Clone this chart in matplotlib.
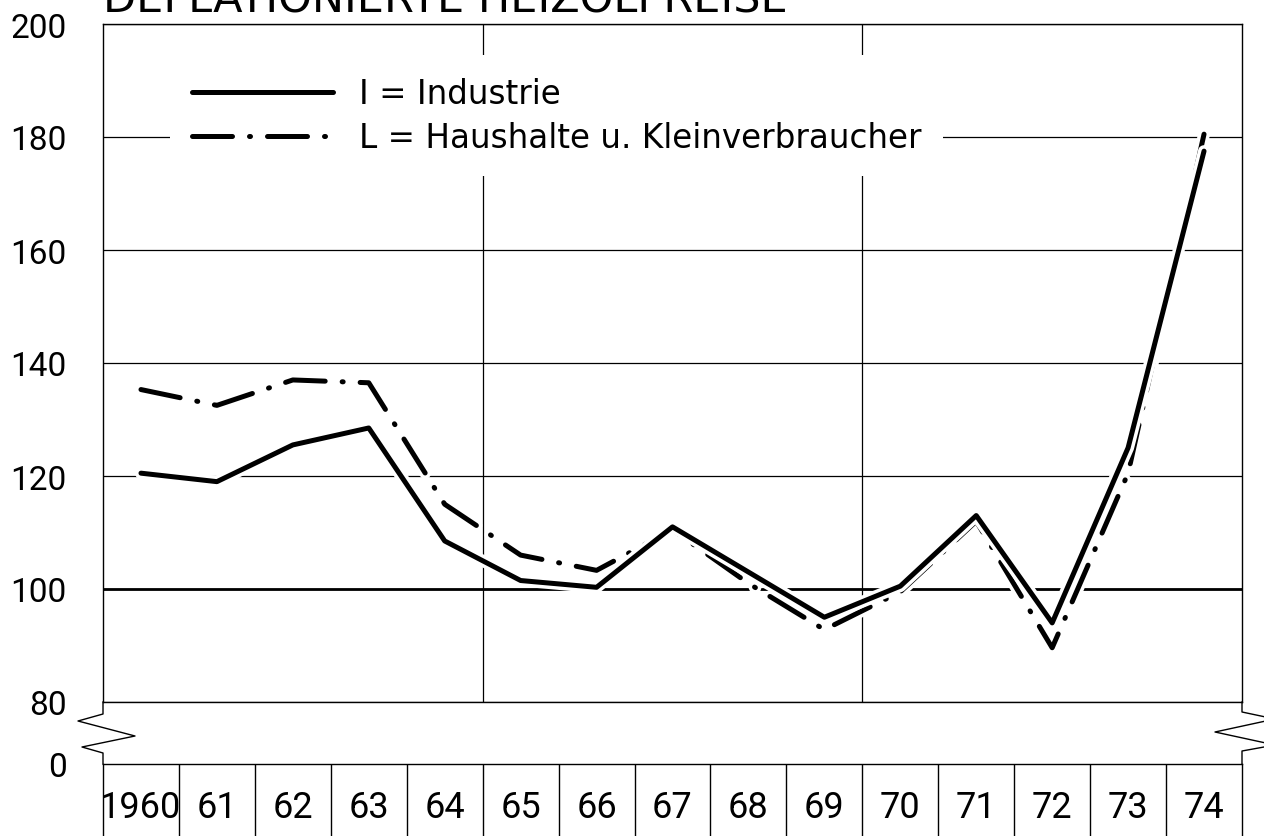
import matplotlib
matplotlib.use('Agg')
import matplotlib.pyplot as plt
from matplotlib.lines import Line2D
import matplotlib.patheffects as pe

# ---------------- data ----------------
years = ['1960', '61', '62', '63', '64', '65', '66', '67', '68', '69',
         '70', '71', '72', '73', '74']
industrie = [120.5, 119.0, 125.5, 128.5, 108.5, 101.5, 100.3, 111.0, 103.0,
             95.0, 100.5, 113.0, 94.0, 125.0, 177.5]
haushalte = [135.3, 132.5, 137.0, 136.5, 115.0, 106.0, 103.3, 110.5, 101.0,
             92.8, 99.5, 112.0, 89.6, 120.5, 180.5]
yticks = [80, 100, 120, 140, 160, 180, 200]
ytick_labels = ['80', '100', '120', '140', '160', '180', '200']
zero_label = '0'
title = 'DEFLATIONIERTE HEIZÖLPREISE'
label_i = 'I = Industrie'
label_l = 'L = Haushalte u. Kleinverbraucher'

# ---------------- layout helpers ----------------
W, H = 1264, 837
fig = plt.figure(figsize=(W / 100, H / 100), dpi=100)
fig.patch.set_facecolor('white')


def fx(px):
    return px / W


def fy(py):
    return 1 - py / H


LEFT, RIGHT = 103, 1242
TOP, Y80, Y0 = 25, 703, 765
NUM_FONT = ['Roboto', 'DejaVu Sans']
TXT_FONT = ['DejaVu Sans']
LW = 3.6

# ---------------- main plotting axes (80..200) ----------------
ax = fig.add_axes([fx(LEFT), fy(Y80), (RIGHT - LEFT) / W, (Y80 - TOP) / H])
xs = list(range(len(years)))
ax.set_xlim(-0.5, len(years) - 0.5)
ax.set_ylim(80, 200)

ax.set_yticks(yticks)
ax.set_yticklabels(ytick_labels, family=NUM_FONT, fontsize=24)
ax.set_xticks([4.5, 9.5])
ax.set_xticklabels([])
ax.tick_params(length=0, pad=26)
ax.grid(True, color='black', lw=0.9)
ax.set_axisbelow(True)
ax.axhline(100, color='black', lw=2.0, zorder=1.5)
for s in ax.spines.values():
    s.set_color('black')
    s.set_linewidth(1.0)

halo = [pe.Stroke(linewidth=LW + 5, foreground='white'), pe.Normal()]
ax.plot(xs, haushalte, color='black', lw=LW, linestyle=(0, (8, 3.4, 0.2, 3.4)),
        dash_capstyle='round', solid_capstyle='round', label=label_l,
        path_effects=halo, zorder=3)
ax.plot(xs, industrie, color='black', lw=LW, solid_capstyle='round',
        label=label_i, path_effects=halo, zorder=4)

handles, labels = ax.get_legend_handles_labels()
leg = ax.legend(handles[::-1], labels[::-1], loc='upper left',
                bbox_to_anchor=((170 - LEFT) / (RIGHT - LEFT), 1 - (56 - TOP) / (Y80 - TOP)),
                borderaxespad=0, borderpad=0.68, frameon=True, fancybox=False,
                facecolor='white', edgecolor='none', framealpha=1,
                handlelength=4.3, handletextpad=0.8, labelspacing=0.34,
                prop={'family': TXT_FONT, 'size': 23.5})
leg.set_zorder(5)

# ---------------- bottom year table ----------------
bx = fig.add_axes([fx(LEFT), 0, (RIGHT - LEFT) / W, (H - Y0) / H])
bx.set_xlim(-0.5, len(years) - 0.5)
bx.set_ylim(0, 1)
bx.set_xticks([])
bx.set_yticks([1])
bx.set_yticklabels([zero_label], family=NUM_FONT, fontsize=24)
bx.tick_params(length=0, pad=26)
bx.spines['bottom'].set_visible(False)
for s in ['top', 'left', 'right']:
    bx.spines[s].set_color('black')
    bx.spines[s].set_linewidth(1.0)
bx.vlines([i + 0.5 for i in range(len(years) - 1)], 0, 1, color='black', lw=1.0)
for i, yr in enumerate(years):
    bx.text(i, 0.27, yr, ha='center', va='baseline', family=NUM_FONT,
            fontsize=26, color='black')

# ---------------- axis breaks ----------------
left_break = [(LEFT, Y80), (LEFT, 715), (78, 722), (135, 737), (82, 748),
              (LEFT, 754), (LEFT, Y0)]
right_break = [(RIGHT, Y80), (RIGHT, 713), (1275, 720), (1215, 733),
               (1275, 746), (RIGHT, 752), (RIGHT, Y0)]
for pts in (left_break, right_break):
    fig.add_artist(Line2D([fx(p[0]) for p in pts], [fy(p[1]) for p in pts],
                          transform=fig.transFigure, color='black', lw=1.0))

# ---------------- title (cut off at the top, as in the original) ----------------
fig.text(fx(103), fy(12), title, ha='left', va='baseline', family=TXT_FONT,
         fontsize=31, color='black')

fig.savefig('out.png', dpi=100, facecolor='white')
